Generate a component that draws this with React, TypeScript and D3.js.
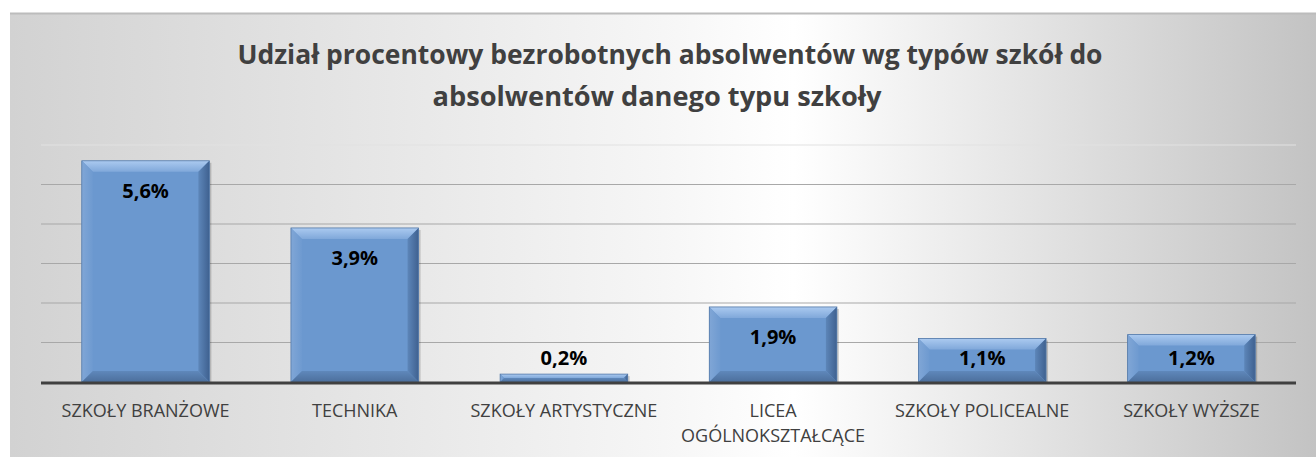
import React from "react";
import * as d3 from "d3";

const categories = [
  "SZKOŁY BRANŻOWE",
  "TECHNIKA",
  "SZKOŁY ARTYSTYCZNE",
  "LICEA OGÓLNOKSZTAŁCĄCE",
  "SZKOŁY POLICEALNE",
  "SZKOŁY WYŻSZE",
];
const values = [5.6, 3.9, 0.2, 1.9, 1.1, 1.2];
const valueLabels = ["5,6%", "3,9%", "0,2%", "1,9%", "1,1%", "1,2%"];
const gridTicks = [0, 1, 2, 3, 4, 5, 6];
const titleLines = [
  "Udział procentowy bezrobotnych absolwentów wg typów szkół do",
  "absolwentów danego typu szkoły",
];

const W = 1316;
const H = 457;
const plot = { left: 41, right: 1296, top: 145, bottom: 382 };
const FONT = "'Open Sans', Lato, sans-serif";

function wrapLabel(s: string): string[] {
  if (s === "LICEA OGÓLNOKSZTAŁCĄCE") return ["LICEA", "OGÓLNOKSZTAŁCĄCE"];
  return [s];
}

const titleLayout = [
  { cx: 670, y: 64, len: 865 },
  { cx: 657, y: 106, len: 449 },
];

export default function App() {
  const x = d3
    .scaleBand<string>()
    .domain(categories)
    .range([plot.left, plot.right])
    .paddingInner(0.39)
    .paddingOuter(0.195);
  const y = d3.scaleLinear().domain([0, 6]).range([plot.bottom, plot.top]);
  const bw = x.bandwidth();

  return (
    <svg
      width={W}
      height={H}
      style={{ position: "absolute", left: 0, top: 0 }}
      xmlns="http://www.w3.org/2000/svg"
    >
      <defs>
        <linearGradient id="bgx" x1="0" x2="1" y1="0" y2="0">
          <stop offset="0" stopColor="#d2d2d2" />
          <stop offset="0.5" stopColor="#f6f6f6" />
          <stop offset="0.6" stopColor="#ffffff" />
          <stop offset="1" stopColor="#c3c3c3" />
        </linearGradient>
        <linearGradient id="bevTop" x1="0" x2="0" y1="0" y2="1">
          <stop offset="0" stopColor="#abcaf0" />
          <stop offset="1" stopColor="#80a8da" />
        </linearGradient>
        <linearGradient id="bevLeft" x1="0" x2="1" y1="0" y2="0">
          <stop offset="0" stopColor="#80a6d6" />
          <stop offset="1" stopColor="#6e9ad0" />
        </linearGradient>
        <linearGradient id="bevRight" x1="0" x2="1" y1="0" y2="0">
          <stop offset="0" stopColor="#5d86b9" />
          <stop offset="1" stopColor="#3f6190" />
        </linearGradient>
        <linearGradient id="bevBot" x1="0" x2="0" y1="0" y2="1">
          <stop offset="0" stopColor="#5f88bb" />
          <stop offset="1" stopColor="#4c6f9c" />
        </linearGradient>
      </defs>

      <rect x={10} y={13} width={W - 10} height={H - 13} fill="url(#bgx)" />
      <line x1={10} x2={W} y1={13.5} y2={13.5} stroke="#bcbcbc" strokeWidth={2} />

      {gridTicks.slice(1).map((t) => (
        <line
          key={t}
          x1={plot.left}
          x2={plot.right}
          y1={y(t)}
          y2={y(t)}
          stroke={t === 6 ? "#e2e2e2" : "#a8a8a8"}
          strokeWidth={1.2}
        />
      ))}

      {titleLines.map((l, i) => (
        <text
          key={i}
          x={titleLayout[i].cx}
          y={titleLayout[i].y}
          textAnchor="middle"
          textLength={titleLayout[i].len}
          lengthAdjust="spacingAndGlyphs"
          fontFamily={FONT}
          fontWeight={700}
          fontSize={26}
          fill="#404040"
        >
          {l}
        </text>
      ))}

      {categories.map((c, i) => {
        const x0 = x(c)!;
        const top = y(values[i]);
        const bot = y(0);
        const h = bot - top;
        const b = Math.min(11, h / 2);
        const x1 = x0 + bw;
        return (
          <g key={c}>
            <rect x={x0 + 2} y={top + 2} width={bw} height={h} fill="#000" opacity={0.18} />
            <rect x={x0} y={top} width={bw} height={h} fill="#6b98cf" />
            <polygon
              points={`${x0},${top} ${x1},${top} ${x1 - b},${top + b} ${x0 + b},${top + b}`}
              fill="url(#bevTop)"
            />
            <polygon
              points={`${x0},${top} ${x0 + b},${top + b} ${x0 + b},${bot - b} ${x0},${bot}`}
              fill="url(#bevLeft)"
            />
            <polygon
              points={`${x1},${top} ${x1},${bot} ${x1 - b},${bot - b} ${x1 - b},${top + b}`}
              fill="url(#bevRight)"
            />
            <polygon
              points={`${x0},${bot} ${x0 + b},${bot - b} ${x1 - b},${bot - b} ${x1},${bot}`}
              fill="url(#bevBot)"
            />
            <rect x={x0} y={top} width={bw} height={h} fill="none" stroke="#5479a8" strokeWidth={0.8} />
            <text
              x={x0 + bw / 2}
              y={Math.min(top + 30, bot - 24)}
              dy="0.35em"
              textAnchor="middle"
              fontFamily={FONT}
              fontWeight={700}
              fontSize={20}
              fill="#000"
            >
              {valueLabels[i]}
            </text>
            {wrapLabel(c).map((l, j) => (
              <text
                key={j}
                x={x0 + bw / 2}
                y={411 + j * 25}
                dy="0.35em"
                textAnchor="middle"
                fontFamily={FONT}
                fontSize={18}
                fill="#404040"
              >
                {l}
              </text>
            ))}
          </g>
        );
      })}

      <line
        x1={plot.left}
        x2={plot.right}
        y1={y(0) + 1}
        y2={y(0) + 1}
        stroke="#404040"
        strokeWidth={3}
      />
    </svg>
  );
}
